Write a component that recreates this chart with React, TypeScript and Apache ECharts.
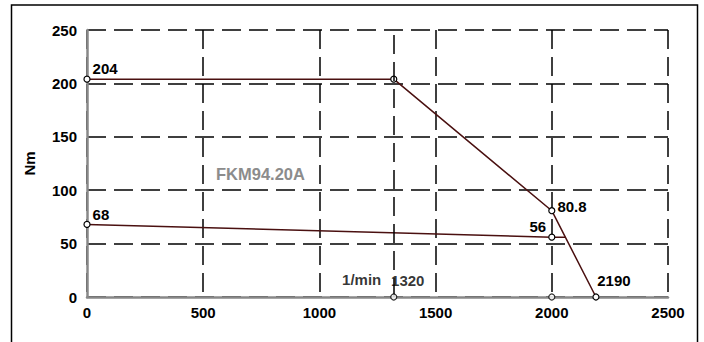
import React, { useEffect, useRef } from "react";
import * as echarts from "echarts";

const speedMin = 0;
const speedMax = 2500;
const speedStep = 500;
const torqueMin = 0;
const torqueMax = 250;
const torqueStep = 50;

const peakSpeed = [0, 1320, 2000, 2190];
const peakTorque = [204, 204, 80.8, 0];
const peakLabels = ["204", "", "80.8", "2190"];

const contSpeed = [0, 2000, 2058];
const contTorque = [68, 56, 56];
const contLabels = ["68", "56", ""];

const axisMarkSpeed = [1320, 2000];
const axisMarkLabels = ["1320", ""];
const cornerSpeed = 1320;

const motorName = "FKM94.20A";
const speedUnit = "1/min";
const torqueUnit = "Nm";

const FONT = "Arial, 'Liberation Sans', sans-serif";
const LINE = "#4a1010";
const DASH = [19, 8];
const FS = 15;

export default function App() {
  const ref = useRef<HTMLDivElement>(null);
  useEffect(() => {
    document.body.style.margin = "0";
    const chart = echarts.init(ref.current!, null, { renderer: "svg" });
    const lbl = (text: string, pos: string, offset: number[]) =>
      text
        ? {
            show: true,
            formatter: text,
            position: pos,
            distance: 2,
            offset,
            color: "#000",
            textBorderWidth: 0,
            fontFamily: FONT,
            fontWeight: "bold",
            fontSize: FS,
          }
        : { show: false };

    const peakPos: [string, number[]][] = [
      ["right", [0, -11]],
      ["right", [0, 0]],
      ["right", [0, -4]],
      ["top", [18, -3]],
    ];
    const contPos: [string, number[]][] = [
      ["right", [0, -10]],
      ["left", [0, -11]],
      ["right", [0, 0]],
    ];

    const peakData = peakSpeed.map((s, i) => ({
      value: [s, peakTorque[i]],
      label: lbl(peakLabels[i], peakPos[i][0], peakPos[i][1]),
    }));
    const contData = contSpeed.map((s, i) => ({
      value: [s, contTorque[i]],
      symbol: i === contSpeed.length - 1 ? "none" : "circle",
      label: lbl(contLabels[i], contPos[i][0], contPos[i][1]),
    }));
    const markData = axisMarkSpeed.map((s, i) => ({
      value: [s, 0],
      label: lbl(axisMarkLabels[i], "top", [14, -3]),
    }));
    const unitData = [
      {
        value: [cornerSpeed, 0],
        label: lbl(speedUnit, "left", [-10, -18]),
      },
    ];

    const sym = {
      symbol: "circle",
      symbolSize: 6,
      itemStyle: { color: "#fff", borderColor: "#000", borderWidth: 1.2 },
    };

    chart.setOption({
      animation: false,
      grid: { left: 87, right: 36, top: 30, bottom: 45, outerBoundsMode: "none" },
      graphic: [
        {
          type: "rect",
          shape: { x: 11.5, y: 5, width: 686, height: 360 },
          style: { fill: "none", stroke: "#000", lineWidth: 1.5 },
          silent: true,
          z: -10,
        },
        {
          type: "text",
          left: 216,
          top: 165,
          style: {
            text: motorName,
            fill: "#8c8c8c",
            font: `bold 16.5px ${FONT}`,
          },
        },
      ],
      xAxis: {
        type: "value",
        min: speedMin,
        max: speedMax,
        interval: speedStep,
        axisLine: { show: true, lineStyle: { color: "#888", width: 2.5 } },
        axisTick: { show: false },
        axisLabel: {
          margin: 8,
          color: "#000",
          fontFamily: FONT,
          fontWeight: "bold",
          fontSize: FS,
          formatter: (v: number) => String(v),
        },
        splitLine: { show: true, lineStyle: { color: "#000", width: 1.5, type: DASH } },
      },
      yAxis: {
        type: "value",
        min: torqueMin,
        max: torqueMax,
        interval: torqueStep,
        name: torqueUnit,
        nameLocation: "middle",
        nameGap: 50,
        nameRotate: 90,
        nameTextStyle: { color: "#000", fontFamily: FONT, fontWeight: "bold", fontSize: FS },
        axisLine: { show: true, lineStyle: { color: "#888", width: 2.5 } },
        axisTick: { show: false },
        axisLabel: {
          margin: 10,
          color: "#000",
          fontFamily: FONT,
          fontWeight: "bold",
          fontSize: FS,
          formatter: (v: number) => String(v),
        },
        splitLine: { show: true, lineStyle: { color: "#000", width: 1.5, type: DASH } },
      },
      series: [
        {
          type: "line",
          data: contData,
          ...sym,
          lineStyle: { color: LINE, width: 1.5 },
          z: 3,
          markLine: {
            silent: true,
            symbol: ["none", "none"],
            label: { show: false },
            lineStyle: { color: "#000", width: 1.5, type: DASH },
            data: [{ xAxis: cornerSpeed }],
          },
        },
        {
          type: "line",
          data: peakData,
          ...sym,
          lineStyle: { color: LINE, width: 1.5 },
          z: 4,
        },
        {
          type: "scatter",
          data: markData,
          ...sym,
          z: 5,
        },
        {
          type: "scatter",
          data: unitData,
          symbol: "circle",
          symbolSize: 1,
          itemStyle: { color: "rgba(0,0,0,0)" },
          z: 6,
        },
      ],
    });
    return () => chart.dispose();
  }, []);
  return <div ref={ref} style={{ width: 704, height: 342 }} />;
}
